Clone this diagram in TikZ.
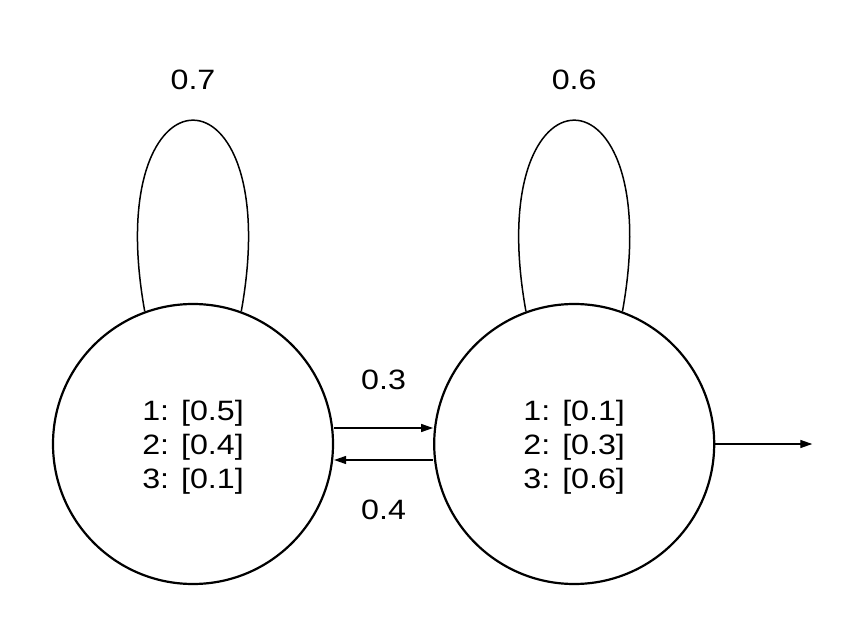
\documentclass[tikz,border=0pt]{standalone}
\usepackage{fontspec}
\setmainfont{Liberation Sans}[FakeStretch=1.15]
\usetikzlibrary{positioning,arrows.meta}
\tikzstyle{state} = [draw, circle, line width=2.2pt, minimum size=280pt, inner sep=0pt, align=center, text depth=0pt, font=\fontsize{28}{34}\selectfont]
\tikzstyle{line} = [draw, line width=1.3pt, -{Triangle[length=12pt,width=8pt]}]
\tikzstyle{loopline} = [draw, line width=1.5pt]
\tikzstyle{prob} = [font=\fontsize{28}{34}\selectfont]
\begin{document}
\begin{tikzpicture}[x=1pt, y=-1pt]
	\useasboundingbox (0,0) rectangle (865,636);
	\node [state] (s1) at (193,444) {1: [0.5]\\2: [0.4]\\3: [0.1]};
	\node [state, right=99pt of s1] (s2) {1: [0.1]\\2: [0.3]\\3: [0.6]};
	\coordinate [right=97pt of s2] (exit);
	
	\path [loopline] (s1.110) .. controls +(-46,-255) and +(46,-255) .. (s1.70) node [prob, midway, yshift=40pt] {0.7};
	\path [loopline] (s2.110) .. controls +(-46,-255) and +(46,-255) .. (s2.70) node [prob, midway, yshift=40pt] {0.6};
	
	\path [line] ([yshift=16pt]s1.east) -- ([yshift=16pt]s2.west) node [prob, midway, yshift=48pt] {0.3};
	\path [line] ([yshift=-16pt]s2.west) -- ([yshift=-16pt]s1.east) node [prob, midway, yshift=-50pt] {0.4};
	\path [line] (s2.east) -- (exit);
\end{tikzpicture}
\end{document}
